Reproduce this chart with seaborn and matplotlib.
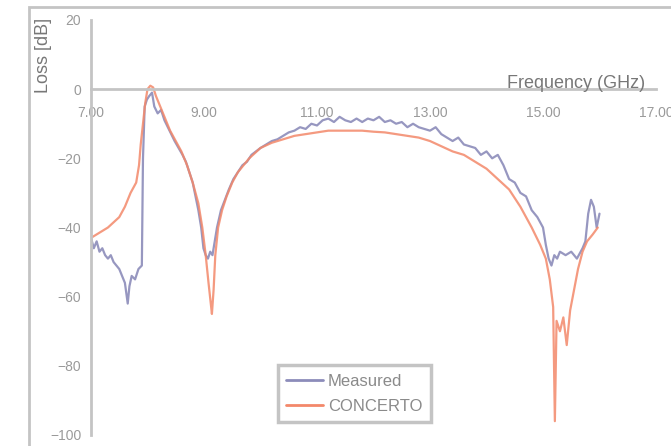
import numpy as np
import pandas as pd
import seaborn as sns
import matplotlib.pyplot as plt
from matplotlib.lines import Line2D
from matplotlib.patches import Rectangle

# Medido (GHz, dB)
freq_med = [7.00, 7.05, 7.10, 7.15, 7.20, 7.25, 7.30, 7.35, 7.40, 7.45, 7.50, 7.55,
            7.60, 7.65, 7.68, 7.72, 7.78, 7.84, 7.90, 7.92, 7.95, 7.99, 8.03, 8.08,
            8.12, 8.18, 8.24, 8.30, 8.36, 8.42, 8.48, 8.55, 8.62, 8.68, 8.74, 8.80,
            8.85, 8.90, 8.95, 8.99, 9.03, 9.07, 9.11, 9.15, 9.19, 9.23, 9.30, 9.37,
            9.44, 9.52, 9.60, 9.68, 9.76, 9.84, 9.92, 10.00, 10.10, 10.20, 10.30,
            10.40, 10.50, 10.60, 10.70, 10.80, 10.90, 11.00, 11.10, 11.20, 11.30,
            11.40, 11.50, 11.60, 11.70, 11.80, 11.90, 12.00, 12.10, 12.20, 12.30,
            12.40, 12.50, 12.60, 12.70, 12.80, 12.90, 13.00, 13.10, 13.20, 13.30,
            13.40, 13.50, 13.60, 13.70, 13.80, 13.90, 14.00, 14.10, 14.20, 14.30,
            14.40, 14.50, 14.60, 14.70, 14.80, 14.90, 15.00, 15.05, 15.10, 15.15,
            15.20, 15.25, 15.30, 15.40, 15.50, 15.60, 15.70, 15.75, 15.80, 15.85,
            15.90, 15.95, 16.00]
loss_med = [-43, -46, -44, -47, -46, -48, -49, -48, -50, -51, -52, -54,
            -56, -62, -57, -54, -55, -52, -51, -20, -5, -3, -2, -1,
            -5, -7, -6, -9, -11, -13, -15, -17, -19, -21, -24, -27,
            -31, -35, -40, -46, -48, -49, -47, -48, -44, -40, -35, -32,
            -29, -26, -24, -22, -21, -19, -18, -17, -16, -15, -14.5,
            -13.5, -12.5, -12, -11, -11.5, -10, -10.5, -9, -8.5, -9.5,
            -8, -9, -9.5, -8.5, -9.5, -8.5, -9, -8, -9.5, -9,
            -10, -9.5, -11, -10, -11, -11.5, -12, -11, -13, -14,
            -15, -14, -16, -16.5, -17, -19, -18, -20, -19, -22,
            -26, -27, -30, -31, -35, -37, -40, -45, -49, -51,
            -48, -49, -47, -48, -47, -49, -46, -44, -36, -32,
            -34, -40, -36]

# CONCERTO (GHz, dB)
freq_sim = [7.00, 7.10, 7.20, 7.30, 7.40, 7.50, 7.60, 7.70, 7.80, 7.85, 7.88, 7.92,
            7.96, 8.00, 8.05, 8.10, 8.15, 8.20, 8.30, 8.40, 8.50, 8.60, 8.70, 8.80,
            8.90, 8.97, 9.03, 9.08, 9.12, 9.14, 9.17, 9.20, 9.25, 9.32, 9.40, 9.50,
            9.60, 9.70, 9.80, 9.90, 10.00, 10.20, 10.40, 10.60, 10.80, 11.00, 11.20,
            11.40, 11.60, 11.80, 12.00, 12.20, 12.40, 12.60, 12.80, 13.00, 13.20,
            13.40, 13.60, 13.80, 14.00, 14.20, 14.40, 14.60, 14.80, 14.95, 15.05,
            15.12, 15.18, 15.21, 15.24, 15.30, 15.36, 15.42, 15.48, 15.55, 15.62,
            15.70, 15.78, 15.88, 15.97]
loss_sim = [-43, -42, -41, -40, -38.5, -37, -34, -30, -27, -22, -16, -10,
            -4, 0, 1, 0.5, -2, -4, -8, -12, -15, -18, -22, -27,
            -33, -40, -48, -56, -62, -65, -58, -48, -40, -35, -31, -27,
            -24, -22, -20, -18.5, -17, -15.5, -14.5, -13.5, -13, -12.5, -12,
            -12, -12, -12, -12.3, -12.5, -13, -13.5, -14, -15, -16.5,
            -18, -19, -21, -23, -26, -29, -34, -40, -45, -49,
            -55, -63, -96, -67, -70, -66, -74, -64, -58, -52,
            -47, -44, -42, -40]

series = ["Measured", "CONCERTO"]
x_ticks = [7, 9, 11, 13, 15, 17]
y_ticks = [20, 0, -20, -40, -60, -80, -100]

df_med = pd.DataFrame({"f": freq_med, "loss": loss_med})
df_sim = pd.DataFrame({"f": freq_sim, "loss": loss_sim})

sns.set_style("white")
plt.rcParams["font.family"] = ["Liberation Sans", "DejaVu Sans"]

col_med = "#8c8cba"
col_sim = "#f3886a"
gris = "#c4c4c4"
texto = "#9a9a9a"

fig = plt.figure(figsize=(6.71, 4.46), dpi=100)
ax = fig.add_axes([91 / 671, 11 / 446, 565 / 671, 415 / 446])

sns.lineplot(data=df_med, x="f", y="loss", ax=ax, color=col_med, lw=1.6,
             sort=False, estimator=None, alpha=0.9)
sns.lineplot(data=df_sim, x="f", y="loss", ax=ax, color=col_sim, lw=1.6,
             sort=False, estimator=None, alpha=0.85)

ax.set_xlim(7, 17)
ax.set_ylim(-100, 20)
ax.set_xticks(x_ticks)
ax.set_xticklabels([f"{t:.2f}" for t in x_ticks])
ax.set_yticks(y_ticks)
ax.set_xlabel("")
ax.set_ylabel("")

for s in ["top", "right"]:
    ax.spines[s].set_visible(False)
ax.spines["bottom"].set_position(("data", 0))
for s in ["left", "bottom"]:
    ax.spines[s].set_color(gris)
    ax.spines[s].set_linewidth(2)
ax.tick_params(axis="both", colors=gris, labelcolor=texto, labelsize=10,
               length=3, width=1.5, direction="out")
ax.tick_params(axis="x", pad=9)
ax.tick_params(axis="y", pad=4)
ax.grid(False)

# titulos de ejes, como en Excel
fig.text(507 / 671, 1 - 83 / 446, "Frequency (GHz)", fontsize=13, color="#777777",
         ha="left", va="center")
fig.text(43 / 671, 1 - 55 / 446, "Loss [dB]", fontsize=13, color="#777777",
         rotation=90, ha="center", va="center")

# borde del area del grafico
fig.add_artist(Rectangle((29 / 671, -0.1), 1.2, 0.1 + (446 - 7) / 446,
                         transform=fig.transFigure, fill=False,
                         edgecolor=gris, lw=2))

handles = [Line2D([], [], color=col_med, lw=2), Line2D([], [], color=col_sim, lw=2)]
leg = ax.legend(handles, series, loc="lower left", bbox_to_anchor=(0.331, 0.031),
                fontsize=12, frameon=True, fancybox=False, framealpha=1,
                edgecolor=gris, handlelength=2.2, handletextpad=0.3,
                borderpad=0.5, labelspacing=0.6, borderaxespad=0)
leg.get_frame().set_linewidth(2.5)
for t in leg.get_texts():
    t.set_color("#8a8a8a")

fig.savefig("out.png", dpi=100)
